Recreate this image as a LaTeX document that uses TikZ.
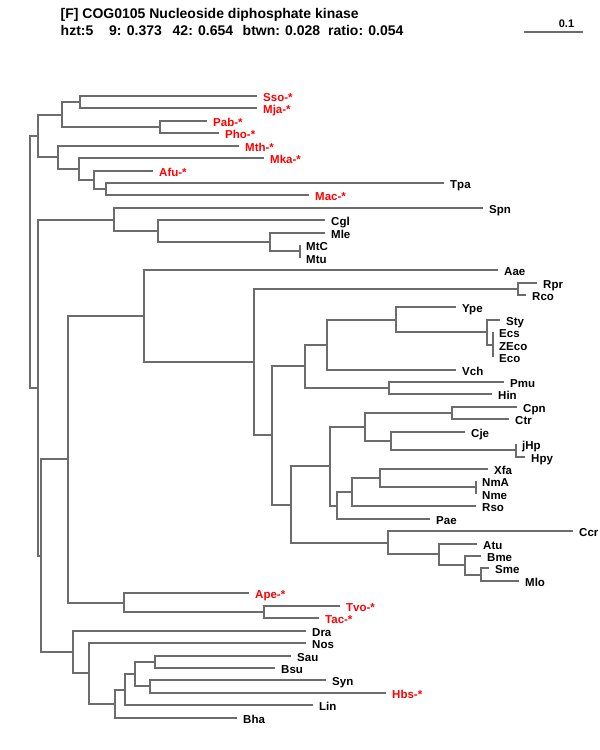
\documentclass[tikz,border=0pt]{standalone}
\usepackage{fontspec}
\setmainfont{Liberation Sans}
\definecolor{treegray}{RGB}{108,108,108}
\definecolor{archred}{RGB}{255,0,0}
\newcommand\leaf[5]{\coordinate (#1) at (#2,#3); \node[#4] (t#1) at (#1) {#5};}
\begin{document}
\begin{tikzpicture}[x=1pt,y=-1pt,
  br/.style={draw=treegray,line width=1.5pt},
  lab/.style={anchor=base west,inner sep=0pt,xshift=6pt,yshift=-5.5pt,font=\fontsize{11.5}{12}\selectfont\bfseries},
  blk/.style={lab,text=black},
  arc/.style={lab,text=archred},
  ttl/.style={anchor=base west,inner sep=0pt,font=\fontsize{14}{16}\selectfont\bfseries}]
\fill[white] (0,0) rectangle (600,750);
\useasboundingbox (0,0) rectangle (600,750);
% title
\node[ttl] (title) at (60.5,18.3) {[F] COG0105 Nucleoside diphosphate kinase};
\node[ttl] (h1) at (60.5,35) {hzt:5};
\node[ttl] (h2) at (109,35) {9: 0.373};
\node[ttl] (h3) at (172.5,35) {42: 0.654};
\node[ttl] (h4) at (242.5,35) {btwn: 0.028};
\node[ttl] (h5) at (328,35) {ratio: 0.054};
% scale bar
\coordinate (sb1) at (524,32);
\coordinate (sb2) at (583,32);
\draw[br] (sb1) -- (sb2);
\node[anchor=base,inner sep=0pt,font=\fontsize{11}{12}\selectfont\bfseries] (sbl) at (566.5,27) {0.1};
% leaves
\leaf{Sso}{257}{96}{arc}{Sso-*}
\leaf{Mja}{257}{108}{arc}{Mja-*}
\leaf{Pab}{207}{121}{arc}{Pab-*}
\leaf{Pho}{219}{133}{arc}{Pho-*}
\leaf{Mth}{239}{146}{arc}{Mth-*}
\leaf{Mka}{264}{158}{arc}{Mka-*}
\leaf{Afu}{153}{171}{arc}{Afu-*}
\leaf{Tpa}{444}{183}{blk}{Tpa}
\leaf{Mac}{309}{195}{arc}{Mac-*}
\leaf{Spn}{483}{208}{blk}{Spn}
\leaf{Cgl}{325}{220}{blk}{Cgl}
\leaf{Mle}{325}{233}{blk}{Mle}
\leaf{MtC}{300}{245}{blk}{MtC}
\leaf{Mtu}{300}{258}{blk}{Mtu}
\leaf{Aae}{498}{270}{blk}{Aae}
\leaf{Rpr}{537}{283}{blk}{Rpr}
\leaf{Rco}{526}{295}{blk}{Rco}
\leaf{Ype}{456}{307}{blk}{Ype}
\leaf{Sty}{500}{320}{blk}{Sty}
\leaf{Ecs}{493}{332}{blk}{Ecs}
\leaf{ZEco}{493}{345}{blk}{ZEco}
\leaf{Eco}{493}{357}{blk}{Eco}
\leaf{Vch}{456}{370}{blk}{Vch}
\leaf{Pmu}{504}{382}{blk}{Pmu}
\leaf{Hin}{492}{394}{blk}{Hin}
\leaf{Cpn}{517}{407}{blk}{Cpn}
\leaf{Ctr}{509}{419}{blk}{Ctr}
\leaf{Cje}{465}{432}{blk}{Cje}
\leaf{jHp}{516}{444}{blk}{jHp}
\leaf{Hpy}{525}{457}{blk}{Hpy}
\leaf{Xfa}{488}{469}{blk}{Xfa}
\leaf{NmA}{476}{481}{blk}{NmA}
\leaf{Nme}{476}{494}{blk}{Nme}
\leaf{Rso}{476}{506}{blk}{Rso}
\leaf{Pae}{430}{519}{blk}{Pae}
\leaf{Ccr}{573}{531}{blk}{Ccr}
\leaf{Atu}{477}{544}{blk}{Atu}
\leaf{Bme}{481}{556}{blk}{Bme}
\leaf{Sme}{489}{568}{blk}{Sme}
\leaf{Mlo}{519}{581}{blk}{Mlo}
\leaf{Ape}{249}{593}{arc}{Ape-*}
\leaf{Tvo}{340}{606}{arc}{Tvo-*}
\leaf{Tac}{319}{618}{arc}{Tac-*}
\leaf{Dra}{306}{631}{blk}{Dra}
\leaf{Nos}{306}{643}{blk}{Nos}
\leaf{Sau}{291}{656}{blk}{Sau}
\leaf{Bsu}{275}{668}{blk}{Bsu}
\leaf{Syn}{326}{680}{blk}{Syn}
\leaf{Hbs}{386}{693}{arc}{Hbs-*}
\leaf{Lin}{313}{705}{blk}{Lin}
\leaf{Bha}{237}{718}{blk}{Bha}
% internal nodes
\coordinate (A1) at (80,102);
\coordinate (A2) at (160,127);
\coordinate (A3) at (62,115);
\coordinate (A4) at (106,189);
\coordinate (A5) at (94,180);
\coordinate (A6) at (79,169);
\coordinate (A7) at (58,157);
\coordinate (A8) at (38,136);
\coordinate (S1) at (300,251);
\coordinate (S2) at (270,242);
\coordinate (S3) at (158,231);
\coordinate (S4) at (114,220);
\coordinate (E) at (493,345);
\coordinate (P1) at (487,332);
\coordinate (P2) at (396,320);
\coordinate (P3) at (327,345);
\coordinate (P4) at (389,388);
\coordinate (P5) at (305,366);
\coordinate (Chl) at (452,413);
\coordinate (Hp) at (516,450);
\coordinate (Cj) at (391,441);
\coordinate (C2) at (365,427);
\coordinate (Nm) at (476,487);
\coordinate (X1) at (380,478);
\coordinate (X2) at (352,492);
\coordinate (X3) at (337,506);
\coordinate (C3) at (330,466);
\coordinate (Sm) at (481,575);
\coordinate (Bm) at (465,565);
\coordinate (At) at (439,554);
\coordinate (Cc) at (388,543);
\coordinate (C4) at (291,505);
\coordinate (P6) at (272,435);
\coordinate (Rr) at (518,289);
\coordinate (P7) at (254,362);
\coordinate (P8) at (144,316);
\coordinate (Tv) at (264,612);
\coordinate (Ap) at (124,603);
\coordinate (P9) at (68,459);
\coordinate (Sb) at (155,662);
\coordinate (Sh) at (150,686);
\coordinate (G1) at (135,674);
\coordinate (G2) at (125,690);
\coordinate (G3) at (115,704);
\coordinate (G4) at (89,673);
\coordinate (G5) at (73,652);
\coordinate (Q1) at (41,556);
\coordinate (Q2) at (38,388);
\coordinate (R) at (30,262);
% branches
\foreach \p/\c in {A1/Sso,A1/Mja,A2/Pab,A2/Pho,A3/A1,A3/A2,A4/Tpa,A4/Mac,A5/Afu,A5/A4,
  A6/Mka,A6/A5,A7/Mth,A7/A6,A8/A3,A8/A7,S1/MtC,S1/Mtu,S2/Mle,S2/S1,S3/Cgl,S3/S2,S4/Spn,S4/S3,
  E/Ecs,E/ZEco,E/Eco,P1/Sty,P1/E,P2/Ype,P2/P1,P3/P2,P3/Vch,P4/Pmu,P4/Hin,P5/P3,P5/P4,
  Chl/Cpn,Chl/Ctr,Hp/jHp,Hp/Hpy,Cj/Cje,Cj/Hp,C2/Chl,C2/Cj,Nm/NmA,Nm/Nme,X1/Xfa,X1/Nm,
  X2/X1,X2/Rso,X3/X2,X3/Pae,C3/C2,C3/X3,Sm/Sme,Sm/Mlo,Bm/Bme,Bm/Sm,At/Atu,At/Bm,
  Cc/Ccr,Cc/At,C4/C3,C4/Cc,P6/P5,P6/C4,Rr/Rpr,Rr/Rco,P7/Rr,P7/P6,P8/Aae,P8/P7,
  Tv/Tvo,Tv/Tac,Ap/Ape,Ap/Tv,P9/P8,P9/Ap,Sb/Sau,Sb/Bsu,Sh/Syn,Sh/Hbs,G1/Sb,G1/Sh,
  G2/G1,G2/Lin,G3/G2,G3/Bha,G4/Nos,G4/G3,G5/Dra,G5/G4,Q1/P9,Q1/G5,Q2/S4,Q2/Q1,R/A8,R/Q2}
  \draw[br] (\p) |- (\c);
\end{tikzpicture}
\end{document}
